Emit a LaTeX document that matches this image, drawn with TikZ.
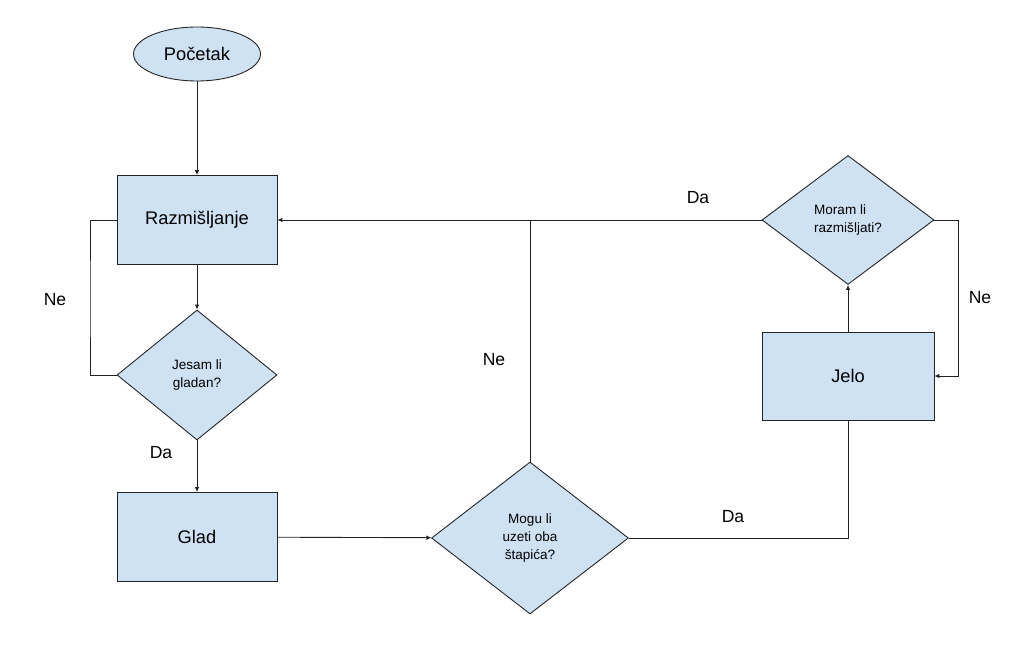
\documentclass[tikz,border=0pt]{standalone}
\usepackage{fontspec}
\setmainfont{Liberation Sans}
\usetikzlibrary{arrows.meta,shapes.geometric}
\definecolor{plava}{HTML}{CFE2F3}
\definecolor{crta}{HTML}{222222}

\begin{document}
\begin{tikzpicture}[
        x=0.02cm, y=-0.02cm,
        kutija/.style={rectangle, draw=crta, fill=plava, line width=0.5pt, minimum width=3.2cm, minimum height=1.78cm, font=\fontsize{10.4}{12}\selectfont},
        odluka/.style={diamond, draw=crta, fill=plava, line width=0.5pt, inner sep=0pt, align=center, font=\fontsize{7.7}{10.2}\selectfont},
        oval/.style={ellipse, draw=crta, fill=plava, line width=0.5pt, minimum width=2.54cm, minimum height=1.08cm, font=\fontsize{10.4}{12}\selectfont},
        oznaka/.style={font=\fontsize{10}{12}\selectfont},
        linija/.style={draw=crta, line width=0.5pt},
        veza/.style={linija, -{Latex[length=1mm,width=0.9mm]}}
    ]
        \useasboundingbox (0,0) rectangle (1010,668);

        \node[oval] (pocetak) at (197,54) {Početak};
        \node[kutija] (razm) at (197,220) {Razmišljanje};
        \node[odluka, minimum width=3.2cm, minimum height=2.6cm] (gladan) at (197,375) {Jesam li\\gladan?};
        \node[kutija] (glad) at (197,537) {Glad};
        \node[odluka, minimum width=3.94cm, minimum height=3.04cm] (stapici) at (530,538) {Mogu li\\uzeti oba\\štapića?};
        \node[kutija, minimum width=3.44cm, minimum height=1.76cm] (jelo) at (848,376) {Jelo};
        \node[odluka, align=left, minimum width=3.44cm, minimum height=2.58cm] (misliti) at (848,220) {Moram li\\razmišljati?};

        \coordinate (petljaL) at (90,300);
        \coordinate (petljaD) at (958,300);
        \coordinate (spoj) at (stapici.north |- razm.east);

        \draw[veza] (pocetak) -- (razm);
        \draw[veza] (razm) -- (gladan);
        \draw[linija] (gladan.west) -| (petljaL) |- (razm.west);
        \draw[veza] (gladan) -- (glad);
        \draw[veza] (glad) -- (stapici);
        \draw[linija] (stapici.north) -- (spoj);
        \draw[linija] (stapici.east) -| (jelo.south);
        \draw[veza] (jelo) -- (misliti);
        \draw[veza] (misliti.west) -- (razm.east);
        \draw[veza] (misliti.east) -| (petljaD) |- (jelo.east);

        \node[oznaka] (neL) at (55,300) {Ne};
        \node[oznaka] (daL) at (161,453) {Da};
        \node[oznaka] (neS) at (494,360) {Ne};
        \node[oznaka] (daD) at (733,517) {Da};
        \node[oznaka] (daG) at (698,198) {Da};
        \node[oznaka] (neD) at (980,298) {Ne};
\end{tikzpicture}
\end{document}
